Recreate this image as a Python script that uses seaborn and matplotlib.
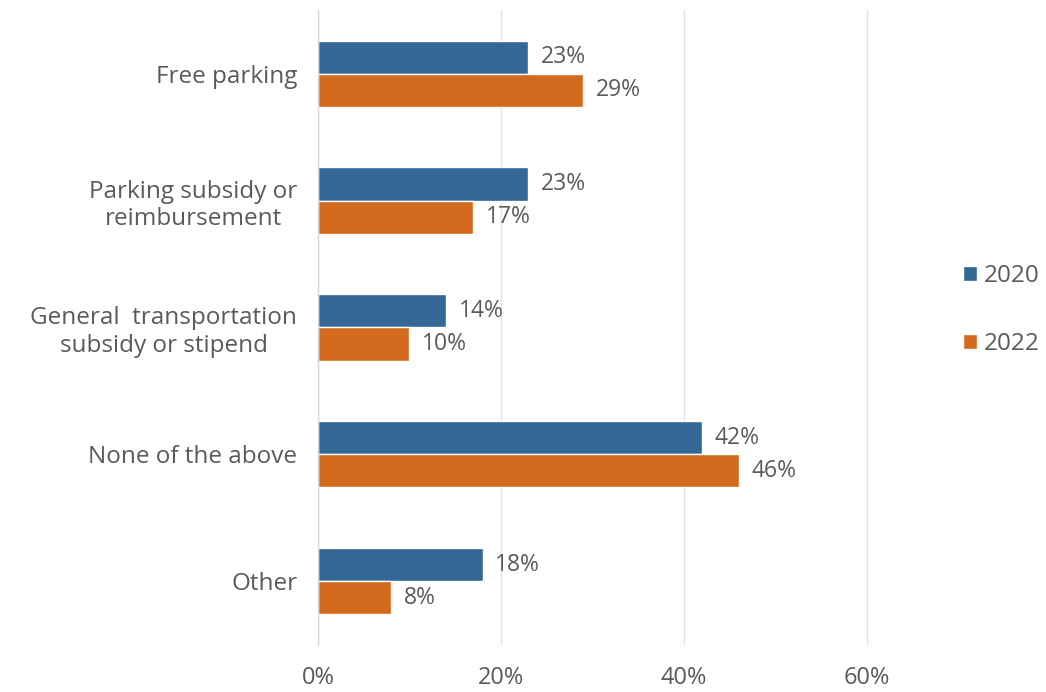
import matplotlib
matplotlib.use("Agg")
import matplotlib.pyplot as plt
import seaborn as sns
import pandas as pd
import numpy as np

categories = [
    "Free parking",
    "Parking subsidy or\nreimbursement",
    "General  transportation\nsubsidy or stipend",
    "None of the above",
    "Other",
]
years = ["2020", "2022"]
values_2020 = [23, 23, 14, 42, 18]
values_2022 = [29, 17, 10, 46, 8]
x_ticks = [0, 20, 40, 60]
x_tick_labels = ["0%", "20%", "40%", "60%"]

colors = {"2020": "#326796", "2022": "#D36A1E"}
text_color = "#5A5A5A"

df = pd.DataFrame({
    "category": categories * 2,
    "year": [years[0]] * len(categories) + [years[1]] * len(categories),
    "value": values_2020 + values_2022,
})

sns.set_theme(style="white")
plt.rcParams["font.family"] = ["Open Sans", "DejaVu Sans"]

fig = plt.figure(figsize=(10.46, 6.92), dpi=100)
ax = fig.add_axes([0.304, 0.068, 0.612, 0.9175])

sns.barplot(data=df, y="category", x="value", hue="year", order=categories,
            hue_order=years, palette=colors, orient="h", width=0.52,
            saturation=1, ax=ax, errorbar=None, legend=True)

for container in ax.containers:
    ax.bar_label(container, fmt="%.0f%%", padding=9, fontsize=16.5, color=text_color)

ax.set_xlim(0, 70)
ax.set_ylim(len(categories) - 0.5, -0.5)
ax.set_xticks(x_ticks)
ax.set_xticklabels(x_tick_labels, fontsize=17, color=text_color)
ax.tick_params(axis="x", length=0, pad=15)
ax.tick_params(axis="y", which="major", length=0, pad=15, labelsize=17.5, labelcolor=text_color)
ax.set_yticks(np.arange(-0.5, len(categories) + 0.5, 1), minor=True)
ax.tick_params(axis="y", which="minor", length=6, color="#D9D9D9", width=1)
for lbl in ax.get_yticklabels():
    lbl.set_multialignment("center")
    lbl.set_linespacing(1.2)

ax.xaxis.grid(True, color="#E3E3E3", linewidth=1)
ax.set_axisbelow(True)
for side in ["top", "right", "bottom"]:
    ax.spines[side].set_visible(False)
ax.spines["left"].set_color("#D9D9D9")
ax.spines["left"].set_linewidth(1)
ax.set_xlabel("")
ax.set_ylabel("")

handles, labels = ax.get_legend_handles_labels()
ax.legend(handles, labels, loc="center left", bbox_to_anchor=(0.9, 0.552),
          bbox_transform=fig.transFigure, frameon=False, fontsize=17.5,
          handlelength=0.55, handleheight=0.55, handletextpad=0.3,
          labelspacing=1.8, labelcolor=text_color, title=None)

fig.savefig("out.png", dpi=100)
